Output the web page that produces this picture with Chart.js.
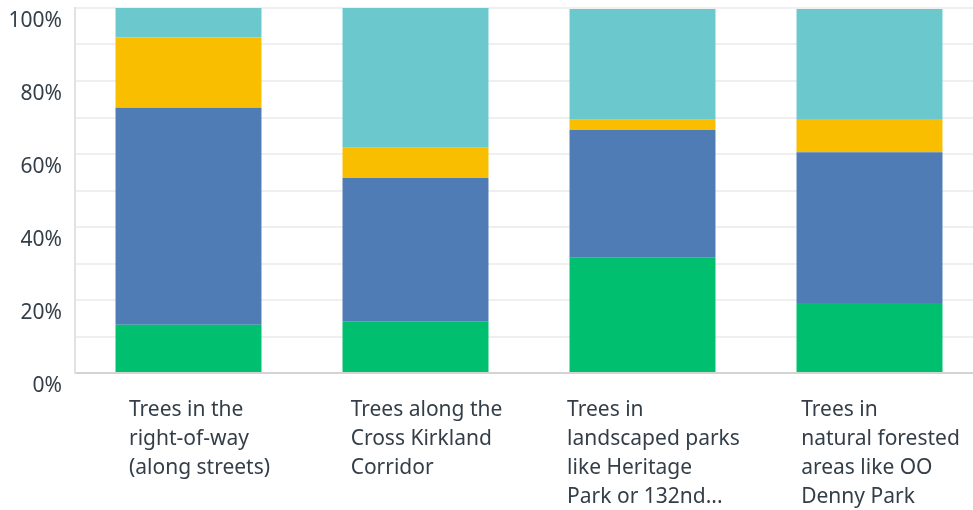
<!DOCTYPE html>
<html>
<head>
<meta charset="utf-8">
<script src="https://cdn.jsdelivr.net/npm/chart.js@4/dist/chart.umd.min.js"></script>
<style>
  html, body { margin: 0; padding: 0; background: #fff; overflow: hidden; }
  #wrap { width: 983px; height: 510px; position: relative; }
</style>
</head>
<body>
<div id="wrap"><canvas id="tree_chart"></canvas></div>
<script>
// categories (x-axis labels, one line per array item)
const categories = [
  ['Trees in the', 'right-of-way', '(along streets)'],
  ['Trees along the', 'Cross Kirkland', 'Corridor'],
  ['Trees in', 'landscaped parks', 'like Heritage', 'Park or 132nd...'],
  ['Trees in', 'natural forested', 'areas like OO', 'Denny Park']
];

// series values in percent, bottom to top
const greenVals  = [13.2, 14.2, 31.6, 19.2];
const blueVals   = [59.5, 39.2, 35.0, 41.3];
const yellowVals = [19.2, 8.3, 2.8, 9.1];
const tealVals   = [8.1, 38.3, 30.3, 30.1];

// y ticks shown with labels (gridlines every 10)
const yLabelTicks = [0, 20, 40, 60, 80, 100];

const textColor = '#333e48';
const fontFamily = '"Noto Sans", sans-serif';

// drop the extra room chart.js keeps for overhanging tick labels
function noPad(scale) {
  scale.paddingLeft = 0;
  scale.paddingRight = 0;
  scale.paddingTop = 0;
  scale.paddingBottom = 0;
}

// x labels: left-aligned lines, block centred a little right of the bar
const blockLabels = {
  id: 'blockLabels',
  beforeDraw(chart) {
    const scale = chart.scales.x;
    const items = scale.getLabelItems();
    const c = chart.ctx;
    items.forEach((item, i) => {
      c.save();
      c.font = item.font.string;
      const lines = Array.isArray(item.label) ? item.label : [item.label];
      const w = Math.max(...lines.map(l => c.measureText(l).width));
      c.restore();
      item.options.textAlign = 'left';
      item.options.translation[0] = scale.getPixelForTick(i) + 11 - w / 2;
    });
  }
};

document.addEventListener('DOMContentLoaded', () => {
  const ctx = document.getElementById('tree_chart').getContext('2d');

  new Chart(ctx, {
    type: 'bar',
    data: {
      labels: categories,
      datasets: [
        { label: 'Series 1', data: greenVals,  backgroundColor: '#00bf6f' },
        { label: 'Series 2', data: blueVals,   backgroundColor: '#507cb6' },
        { label: 'Series 3', data: yellowVals, backgroundColor: '#f9be00' },
        { label: 'Series 4', data: tealVals,   backgroundColor: '#6bc8cd' }
      ]
    },
    plugins: [blockLabels],
    options: {
      responsive: true,
      maintainAspectRatio: false,
      animation: false,
      layout: { padding: { top: 8, right: 0, left: 0, bottom: 0 } },
      plugins: { legend: { display: false }, tooltip: { enabled: false } },
      datasets: { bar: { categoryPercentage: 0.643, barPercentage: 1.0, borderWidth: 0 } },
      scales: {
        x: {
          stacked: true,
          grid: { display: false, drawTicks: false },
          border: { display: true, color: '#d3d3d3', width: 2 },
          ticks: {
            color: textColor,
            font: { family: fontFamily, size: 21, lineHeight: '29px' },
            align: 'start',
            padding: 23,
            maxRotation: 0,
            autoSkip: false
          },
          afterFit: (scale) => { scale.height = 137; noPad(scale); }
        },
        y: {
          stacked: true,
          min: 0,
          max: 100,
          grid: { color: '#efefef', lineWidth: 2, drawTicks: false },
          border: { display: true, color: '#e2e2e2', width: 2 },
          ticks: {
            stepSize: 10,
            color: textColor,
            font: { family: fontFamily, size: 21 },
            padding: 13,
            labelOffset: 13,
            callback: (v) => yLabelTicks.includes(v) ? v + '%' : ''
          },
          afterFit: (scale) => { scale.width = 75; noPad(scale); }
        }
      }
    }
  });
});
</script>
</body>
</html>
